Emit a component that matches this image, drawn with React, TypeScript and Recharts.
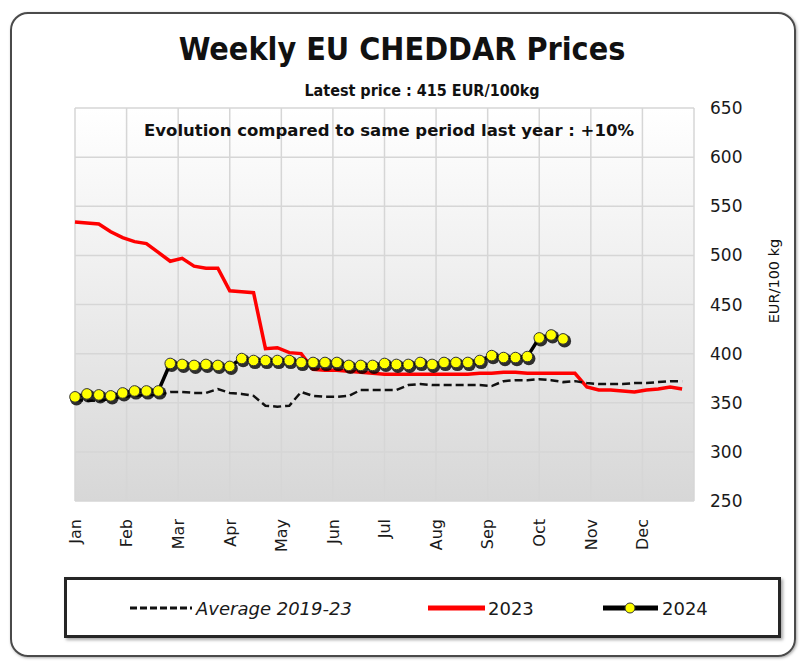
import React from 'react';
import { LineChart, Line, XAxis, YAxis, CartesianGrid, Legend } from 'recharts';

const months = ['Jan', 'Feb', 'Mar', 'Apr', 'May', 'Jun', 'Jul', 'Aug', 'Sep', 'Oct', 'Nov', 'Dec'];
const yTicks = [250, 300, 350, 400, 450, 500, 550, 600, 650];

const avg2019_23 = [
  353, 352, 352, 354, 356, 357, 358, 358, 361, 361, 360, 360, 364, 360, 359, 357,
  347, 346, 347, 361, 357, 356, 356, 357, 363, 363, 363, 363, 368, 369, 368, 368,
  368, 368, 368, 367, 372, 373, 373, 374, 373, 371, 372, 370, 369, 369, 369, 370,
  370, 371, 372, 372,
];

const prices2023 = [
  534, 533, 532, 524, 518, 514, 512, 503, 494, 497, 489, 487, 487, 464, 463, 462,
  405, 406, 401, 400, 384, 383, 383, 382, 381, 380, 379, 379, 379, 379, 379, 379,
  379, 379, 380, 380, 381, 381, 380, 380, 380, 380, 380, 366, 363, 363, 362, 361,
  363, 364, 366, 364,
];

const prices2024 = [
  356, 359, 358, 357, 360, 362, 362, 362, 390, 389, 388, 389, 388, 387, 395, 393,
  393, 393, 393, 391, 391, 391, 391, 388, 388, 388, 390, 389, 389, 391, 389, 391,
  391, 391, 393, 398, 396, 396, 397, 416, 419, 415,
];

const WEEKS = 52;
const data = avg2019_23.map((v, i) => ({
  w: i,
  avg: v,
  y2023: prices2023[i],
  y2024: i < prices2024.length ? prices2024[i] : null,
}));
const monthTicks = months.map((_, m) => (m * WEEKS) / 12);

const FONT = 'DejaVu Sans, Verdana, sans-serif';

const MonthTick = (props: any) => {
  const { x, y, payload } = props;
  const idx = Math.round((payload.value * 12) / WEEKS);
  return (
    <text
      x={x}
      y={y}
      dy="0.36em"
      transform={`rotate(-90 ${x} ${y})`}
      textAnchor="end"
      fontSize={16}
      fill="#1a1a1a"
      fontFamily={FONT}
    >
      {months[idx]}
    </text>
  );
};

const Dot2024 = (props: any) => {
  const { cx, cy, index, value } = props;
  if (cx == null || cy == null || value == null) return <g key={`d${index}`} />;
  return (
    <g key={`d${index}`}>
      <circle cx={cx + 1.5} cy={cy + 2} r={6.6} fill="#000" opacity={0.8} />
      <circle cx={cx} cy={cy} r={5.3} fill="#ffff00" stroke="#333" strokeWidth={1} />
    </g>
  );
};

const legendItems = [
  { name: 'Average 2019-23', kind: 'avg' },
  { name: '2023', kind: 'y2023' },
  { name: '2024', kind: 'y2024' },
];

const LegendBox = () => (
  <div
    style={{
      width: 717,
      height: 61,
      boxSizing: 'border-box',
      border: '3px solid #262626',
      boxShadow: '2px 2px 3px rgba(0,0,0,0.35)',
      background: '#fff',
    }}
  >
    <svg width={711} height={55} style={{ display: 'block' }}>
      {legendItems.map((it) => {
        if (it.kind === 'avg') {
          return (
            <g key={it.name}>
              <line x1={63} y1={28} x2={125} y2={28} stroke="#111" strokeWidth={3} strokeDasharray="7 3" />
              <text x={129} y={34.5} fontSize={18} fontStyle="italic" fill="#1a1a1a" fontFamily={FONT}>
                {it.name}
              </text>
            </g>
          );
        }
        if (it.kind === 'y2023') {
          return (
            <g key={it.name}>
              <line x1={361} y1={28} x2={418} y2={28} stroke="#ff0000" strokeWidth={5} />
              <text x={421} y={34.5} fontSize={18} fill="#1a1a1a" fontFamily={FONT}>
                {it.name}
              </text>
            </g>
          );
        }
        return (
          <g key={it.name}>
            <line x1={536} y1={28} x2={591} y2={28} stroke="#000" strokeWidth={5} />
            <circle cx={563} cy={28} r={5} fill="#ffff00" stroke="#333" strokeWidth={1} />
            <text x={595} y={34.5} fontSize={18} fill="#1a1a1a" fontFamily={FONT}>
              {it.name}
            </text>
          </g>
        );
      })}
    </svg>
  </div>
);

export default function App() {
  return (
    <div
      style={{
        position: 'absolute',
        left: 0,
        top: 0,
        width: 802,
        height: 661,
        background: '#fff',
        fontFamily: FONT,
        overflow: 'hidden',
      }}
    >
      <div
        style={{
          position: 'absolute',
          left: 10,
          top: 12,
          width: 786,
          height: 645,
          boxSizing: 'border-box',
          border: '2px solid #4a4a4a',
          borderRadius: 18,
          boxShadow: '1px 1px 3px rgba(0,0,0,0.35)',
        }}
      />
      <div
        style={{
          position: 'absolute',
          left: 75,
          top: 108,
          width: 619,
          height: 393,
          background: 'linear-gradient(to bottom, #ffffff 0%, #f0f0f0 40%, #d7d7d7 100%)',
        }}
      />
      <div style={{ position: 'absolute', left: 0, top: 0 }}>
        <LineChart
          width={802}
          height={661}
          data={data}
          margin={{ top: 108, left: 75, right: 48, bottom: 110 }}
        >
          <CartesianGrid stroke="#d6d6d6" strokeWidth={1.5} />
          <XAxis
            dataKey="w"
            type="number"
            domain={[0, WEEKS]}
            ticks={monthTicks}
            interval={0}
            height={50}
            axisLine={false}
            tickLine={false}
            tickSize={0}
            tickMargin={18}
            tick={<MonthTick />}
          />
          <YAxis
            orientation="right"
            domain={[250, 650]}
            ticks={yTicks}
            interval={0}
            width={60}
            axisLine={false}
            tickLine={false}
            tickSize={0}
            tickMargin={16}
            tick={{ fontSize: 17, fill: '#1a1a1a', fontFamily: FONT }}
          />
          <Legend
            layout="horizontal"
            verticalAlign="middle"
            align="center"
            content={() => <LegendBox />}
            wrapperStyle={{ position: 'absolute', left: 64, top: 577, width: 717, height: 61 }}
          />
          <Line
            type="linear"
            dataKey="y2023"
            name="2023"
            stroke="#ff0000"
            strokeWidth={3.5}
            dot={false}
            isAnimationActive={false}
          />
          <Line
            type="linear"
            dataKey="avg"
            name="Average 2019-23"
            stroke="#111"
            strokeWidth={2.5}
            strokeDasharray="8 4"
            dot={false}
            isAnimationActive={false}
          />
          <Line
            type="linear"
            dataKey="y2024"
            name="2024"
            stroke="#000"
            strokeWidth={3.5}
            dot={<Dot2024 />}
            activeDot={false}
            isAnimationActive={false}
          />
        </LineChart>
      </div>
      <svg
        width={802}
        height={661}
        style={{ position: 'absolute', left: 0, top: 0, pointerEvents: 'none' }}
      >
        <text
          x={402}
          y={60}
          textAnchor="middle"
          fontSize={32}
          fontWeight="bold"
          fontFamily="DejaVu Sans Condensed, DejaVu Sans, sans-serif"
          fill="#111"
        >
          Weekly EU CHEDDAR Prices
        </text>
        <text
          x={422}
          y={96}
          textAnchor="middle"
          fontSize={16}
          fontWeight="bold"
          fontFamily="DejaVu Sans Condensed, DejaVu Sans, sans-serif"
          fill="#111"
        >
          Latest price : 415 EUR/100kg
        </text>
        <text
          x={389}
          y={136}
          textAnchor="middle"
          fontSize={16.5}
          fontWeight="bold"
          fontFamily={FONT}
          fill="#111"
        >
          Evolution compared to same period last year : +10%
        </text>
        <text
          x={779}
          y={281}
          textAnchor="middle"
          fontSize={14.5}
          fontFamily={FONT}
          fill="#111"
          transform="rotate(-90 779 281)"
        >
          EUR/100 kg
        </text>
      </svg>
    </div>
  );
}
